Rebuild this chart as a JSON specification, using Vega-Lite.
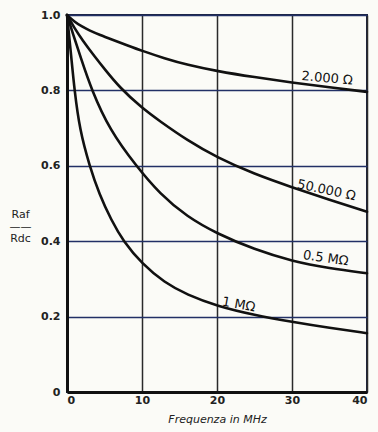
{
  "$schema": "https://vega.github.io/schema/vega-lite/v6.json",
  "autosize": "none",
  "width": 300,
  "height": 377,
  "padding": {"left": 67, "top": 15, "right": 11, "bottom": 40},
  "background": "#fbfbf7",
  "config": {
    "view": {"stroke": "#1c2340", "strokeWidth": 2},
    "font": "DejaVu Sans"
  },
  "datasets": {
    "curves": [
      {"f": 0, "r": 1.0, "series": "2.000 Ω"},
      {"f": 1, "r": 0.982, "series": "2.000 Ω"},
      {"f": 2, "r": 0.969, "series": "2.000 Ω"},
      {"f": 3, "r": 0.959, "series": "2.000 Ω"},
      {"f": 4.4, "r": 0.947, "series": "2.000 Ω"},
      {"f": 6, "r": 0.935, "series": "2.000 Ω"},
      {"f": 8, "r": 0.92, "series": "2.000 Ω"},
      {"f": 10, "r": 0.905, "series": "2.000 Ω"},
      {"f": 13, "r": 0.885, "series": "2.000 Ω"},
      {"f": 16, "r": 0.868, "series": "2.000 Ω"},
      {"f": 20, "r": 0.851, "series": "2.000 Ω"},
      {"f": 25, "r": 0.835, "series": "2.000 Ω"},
      {"f": 30, "r": 0.821, "series": "2.000 Ω"},
      {"f": 35, "r": 0.808, "series": "2.000 Ω"},
      {"f": 40, "r": 0.796, "series": "2.000 Ω"},

      {"f": 0, "r": 1.0, "series": "50.000 Ω"},
      {"f": 1, "r": 0.965, "series": "50.000 Ω"},
      {"f": 2, "r": 0.935, "series": "50.000 Ω"},
      {"f": 3.8, "r": 0.887, "series": "50.000 Ω"},
      {"f": 5, "r": 0.857, "series": "50.000 Ω"},
      {"f": 7, "r": 0.808, "series": "50.000 Ω"},
      {"f": 10, "r": 0.753, "series": "50.000 Ω"},
      {"f": 12.4, "r": 0.718, "series": "50.000 Ω"},
      {"f": 16, "r": 0.668, "series": "50.000 Ω"},
      {"f": 20, "r": 0.622, "series": "50.000 Ω"},
      {"f": 25, "r": 0.578, "series": "50.000 Ω"},
      {"f": 30, "r": 0.543, "series": "50.000 Ω"},
      {"f": 35, "r": 0.51, "series": "50.000 Ω"},
      {"f": 40, "r": 0.478, "series": "50.000 Ω"},

      {"f": 0, "r": 1.0, "series": "0.5 MΩ"},
      {"f": 0.8, "r": 0.95, "series": "0.5 MΩ"},
      {"f": 1.8, "r": 0.889, "series": "0.5 MΩ"},
      {"f": 3.3, "r": 0.8, "series": "0.5 MΩ"},
      {"f": 5.7, "r": 0.695, "series": "0.5 MΩ"},
      {"f": 9.2, "r": 0.6, "series": "0.5 MΩ"},
      {"f": 12.4, "r": 0.525, "series": "0.5 MΩ"},
      {"f": 16, "r": 0.465, "series": "0.5 MΩ"},
      {"f": 20, "r": 0.42, "series": "0.5 MΩ"},
      {"f": 25, "r": 0.378, "series": "0.5 MΩ"},
      {"f": 30, "r": 0.347, "series": "0.5 MΩ"},
      {"f": 35, "r": 0.328, "series": "0.5 MΩ"},
      {"f": 40, "r": 0.315, "series": "0.5 MΩ"},

      {"f": 0, "r": 1.0, "series": "1 MΩ"},
      {"f": 0.57, "r": 0.889, "series": "1 MΩ"},
      {"f": 1.0, "r": 0.8, "series": "1 MΩ"},
      {"f": 1.7, "r": 0.695, "series": "1 MΩ"},
      {"f": 3.0, "r": 0.6, "series": "1 MΩ"},
      {"f": 4.3, "r": 0.525, "series": "1 MΩ"},
      {"f": 5.9, "r": 0.456, "series": "1 MΩ"},
      {"f": 7.5, "r": 0.4, "series": "1 MΩ"},
      {"f": 10, "r": 0.34, "series": "1 MΩ"},
      {"f": 13, "r": 0.29, "series": "1 MΩ"},
      {"f": 16, "r": 0.258, "series": "1 MΩ"},
      {"f": 20, "r": 0.228, "series": "1 MΩ"},
      {"f": 25, "r": 0.204, "series": "1 MΩ"},
      {"f": 30, "r": 0.186, "series": "1 MΩ"},
      {"f": 35, "r": 0.17, "series": "1 MΩ"},
      {"f": 40, "r": 0.156, "series": "1 MΩ"}
    ],
    "labels": [
      {"f": 34.7, "r": 0.832, "label": "2.000 Ω"},
      {"f": 34.6, "r": 0.535, "label": "50.000 Ω"},
      {"f": 34.5, "r": 0.355, "label": "0.5 MΩ"},
      {"f": 22.9, "r": 0.232, "label": "1 MΩ"}
    ]
  },
  "layer": [
    {
      "data": {"name": "curves"},
      "mark": {"type": "line", "interpolate": "basis", "color": "#111111", "strokeWidth": 2.6, "strokeCap": "round"},
      "encoding": {
        "x": {
          "field": "f", "type": "quantitative",
          "scale": {"domain": [0, 40], "nice": false},
          "axis": {
            "title": "Frequenza in MHz",
            "values": [0, 10, 20, 30, 40],
            "grid": true, "gridColor": "#2a2a2a", "gridWidth": 1.5, "gridOpacity": 1,
            "domainColor": "#111111", "domainWidth": 3,
            "ticks": false, "labelPadding": 2,
            "labelFont": "DejaVu Sans", "labelFontSize": 11, "labelFontWeight": "bold", "labelColor": "#222222",
            "titleFont": "DejaVu Sans", "titleFontSize": 11, "titleFontWeight": "normal", "titleFontStyle": "italic", "titleColor": "#222222",
            "titlePadding": 8
          }
        },
        "y": {
          "field": "r", "type": "quantitative",
          "scale": {"domain": [0, 1], "nice": false},
          "axis": {
            "title": ["Raf", "\u2014\u2014", "Rdc"],
            "titleAngle": 0, "titleAlign": "center", "titleBaseline": "middle",
            "titleX": -47, "titleY": 199, "titleLineHeight": 12,
            "titleFont": "DejaVu Sans", "titleFontSize": 11, "titleFontWeight": "normal", "titleColor": "#222222",
            "values": [0, 0.2, 0.4, 0.6, 0.8, 1.0],
            "labelExpr": "datum.value == 0 ? '0' : format(datum.value, '.1f')",
            "grid": true, "gridColor": "#223066", "gridWidth": 1.5, "gridOpacity": 1,
            "domainColor": "#111111", "domainWidth": 3,
            "ticks": false, "labelPadding": 7,
            "labelFont": "DejaVu Sans", "labelFontSize": 11, "labelFontWeight": "bold", "labelColor": "#222222"
          }
        },
        "detail": {"field": "series"}
      }
    },
    {
      "data": {"name": "labels"},
      "transform": [{"filter": "datum.label == '2.000 Ω'"}],
      "mark": {"type": "text", "angle": 5, "fontSize": 13, "color": "#111111", "font": "DejaVu Sans"},
      "encoding": {
        "x": {"field": "f", "type": "quantitative"},
        "y": {"field": "r", "type": "quantitative"},
        "text": {"field": "label"}
      }
    },
    {
      "data": {"name": "labels"},
      "transform": [{"filter": "datum.label == '50.000 Ω'"}],
      "mark": {"type": "text", "angle": 12, "fontSize": 13, "color": "#111111", "font": "DejaVu Sans"},
      "encoding": {
        "x": {"field": "f", "type": "quantitative"},
        "y": {"field": "r", "type": "quantitative"},
        "text": {"field": "label"}
      }
    },
    {
      "data": {"name": "labels"},
      "transform": [{"filter": "datum.label == '0.5 MΩ'"}],
      "mark": {"type": "text", "angle": 8, "fontSize": 13, "color": "#111111", "font": "DejaVu Sans"},
      "encoding": {
        "x": {"field": "f", "type": "quantitative"},
        "y": {"field": "r", "type": "quantitative"},
        "text": {"field": "label"}
      }
    },
    {
      "data": {"name": "labels"},
      "transform": [{"filter": "datum.label == '1 MΩ'"}],
      "mark": {"type": "text", "angle": 10, "fontSize": 13, "color": "#111111", "font": "DejaVu Sans"},
      "encoding": {
        "x": {"field": "f", "type": "quantitative"},
        "y": {"field": "r", "type": "quantitative"},
        "text": {"field": "label"}
      }
    }
  ]
}
